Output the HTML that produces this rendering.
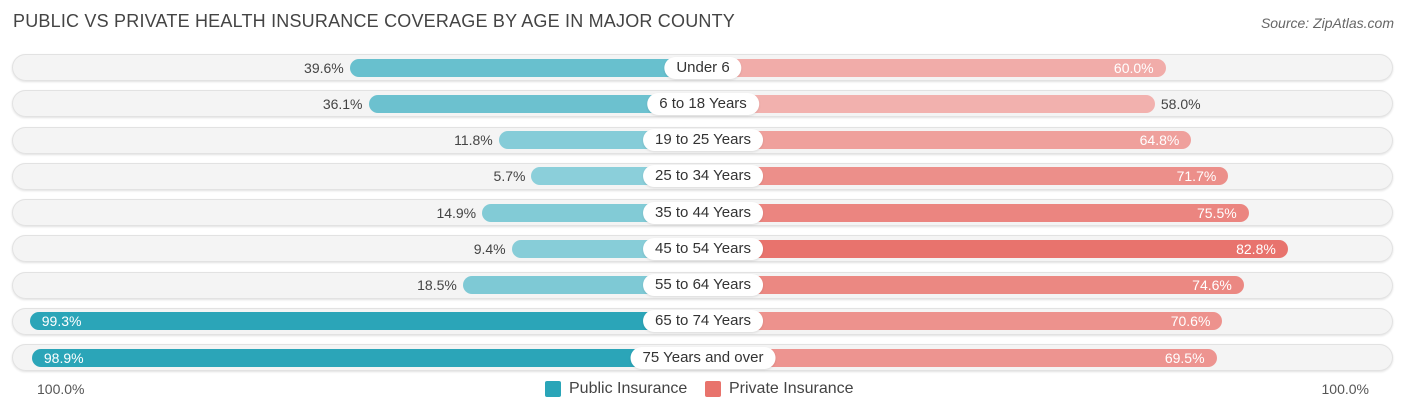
<!DOCTYPE html>
<html><head><meta charset="utf-8"><style>
body{margin:0;width:1406px;height:414px;background:#fff;font-family:"Liberation Sans",sans-serif;position:relative;overflow:hidden}
#title{position:absolute;left:13px;top:11px;font-size:18px;color:#444;letter-spacing:0.2px}
#source{position:absolute;right:12px;top:15px;font-size:14px;color:#666;font-style:italic}
.row{position:absolute;left:12px;width:1381px;height:27px;border-radius:14px;background:#f4f4f4;box-shadow:0 0 0 1px #e2e2e2 inset,0 1px 2px rgba(0,0,0,0.12)}
.bar{position:absolute;height:18px;border-radius:9px}
.lbl{position:absolute;height:22px;line-height:22px;padding:0 12px;background:#fff;border-radius:11px;font-size:15px;color:#333;transform:translateX(-50%);white-space:nowrap;box-shadow:0 1px 2px rgba(0,0,0,0.1)}
.val{position:absolute;font-size:14px;line-height:18px;color:#444}
.val.in{color:#fff}
.axis{position:absolute;top:381px;font-size:14px;color:#555}
.leg{position:absolute;top:380px;font-size:16px;color:#444;display:flex;align-items:center}
.sw{width:16px;height:16px;border-radius:2px;margin-right:8px}
</style></head><body>
<div id="title">PUBLIC VS PRIVATE HEALTH INSURANCE COVERAGE BY AGE IN MAJOR COUNTY</div>
<div id="source">Source: ZipAtlas.com</div>
<div id="chart"></div>
<div class="axis" style="left:37px">100.0%</div>
<div class="axis" style="right:37px">100.0%</div>
<div class="leg" style="left:545px"><div class="sw" style="background:#2aa5b8"></div>Public Insurance</div>
<div class="leg" style="left:705px"><div class="sw" style="background:#e8736c"></div>Private Insurance</div>
<script>
const categories=["Under 6","6 to 18 Years","19 to 25 Years","25 to 34 Years","35 to 44 Years","45 to 54 Years","55 to 64 Years","65 to 74 Years","75 Years and over"];
const publicValues=[39.6,36.1,11.8,5.7,14.9,9.4,18.5,99.3,98.9];
const privateValues=[60.0,58.0,64.8,71.7,75.5,82.8,74.6,70.6,69.5];
const CX=703,BASE=141,SCALE=5.36,TOP=54,STEP=36.25;
function len(v){return BASE+SCALE*v;}
function mix(a,b,t){return 'rgb('+a.map((x,i)=>Math.round(x+(b[i]-x)*t)).join(',')+')';}
function pubColor(v){return mix([140,207,218],[42,165,184],Math.max(0,Math.min(1,(v-5)/95)));}
function privColor(v){return mix([243,184,182],[232,115,108],Math.max(0,Math.min(1,(v-55)/28)));}
const chart=document.getElementById('chart');
categories.forEach((c,i)=>{
  const top=TOP+i*STEP;
  const row=document.createElement('div');
  row.className='row';row.style.top=top+'px';
  
  
  chart.appendChild(row);
  const cy=top+13.5;
  const pv=publicValues[i],rv=privateValues[i];
  const pl=len(pv),rl=len(rv);
  const pb=document.createElement('div');
  pb.className='bar';pb.style.left=(CX-pl)+'px';pb.style.width=pl+'px';pb.style.top=(cy-9)+'px';pb.style.background=pubColor(pv);
  
  
  chart.appendChild(pb);
  const rb=document.createElement('div');
  rb.className='bar';rb.style.left=CX+'px';rb.style.width=rl+'px';rb.style.top=(cy-9)+'px';rb.style.background=privColor(rv);
  
  
  chart.appendChild(rb);
  const pvl=document.createElement('div');
  pvl.className='val';pvl.textContent=pv.toFixed(1)+'%';pvl.style.top=(cy-9)+'px';
  if(pv>80){pvl.classList.add('in');pvl.style.left=(CX-pl+12)+'px';}
  else{pvl.style.right=(1406-(CX-pl)+6)+'px';}
  
  
  chart.appendChild(pvl);
  const rvl=document.createElement('div');
  rvl.className='val';rvl.textContent=rv.toFixed(1)+'%';rvl.style.top=(cy-9)+'px';
  if(rv>59){rvl.classList.add('in');rvl.style.right=(1406-(CX+rl)+12)+'px';}
  else{rvl.style.left=(CX+rl+6)+'px';}
  
  
  chart.appendChild(rvl);
  const lb=document.createElement('div');
  lb.className='lbl';lb.textContent=c;lb.style.left=CX+'px';lb.style.top=(cy-11)+'px';
  
  
  chart.appendChild(lb);
});
</script>
</body></html>
